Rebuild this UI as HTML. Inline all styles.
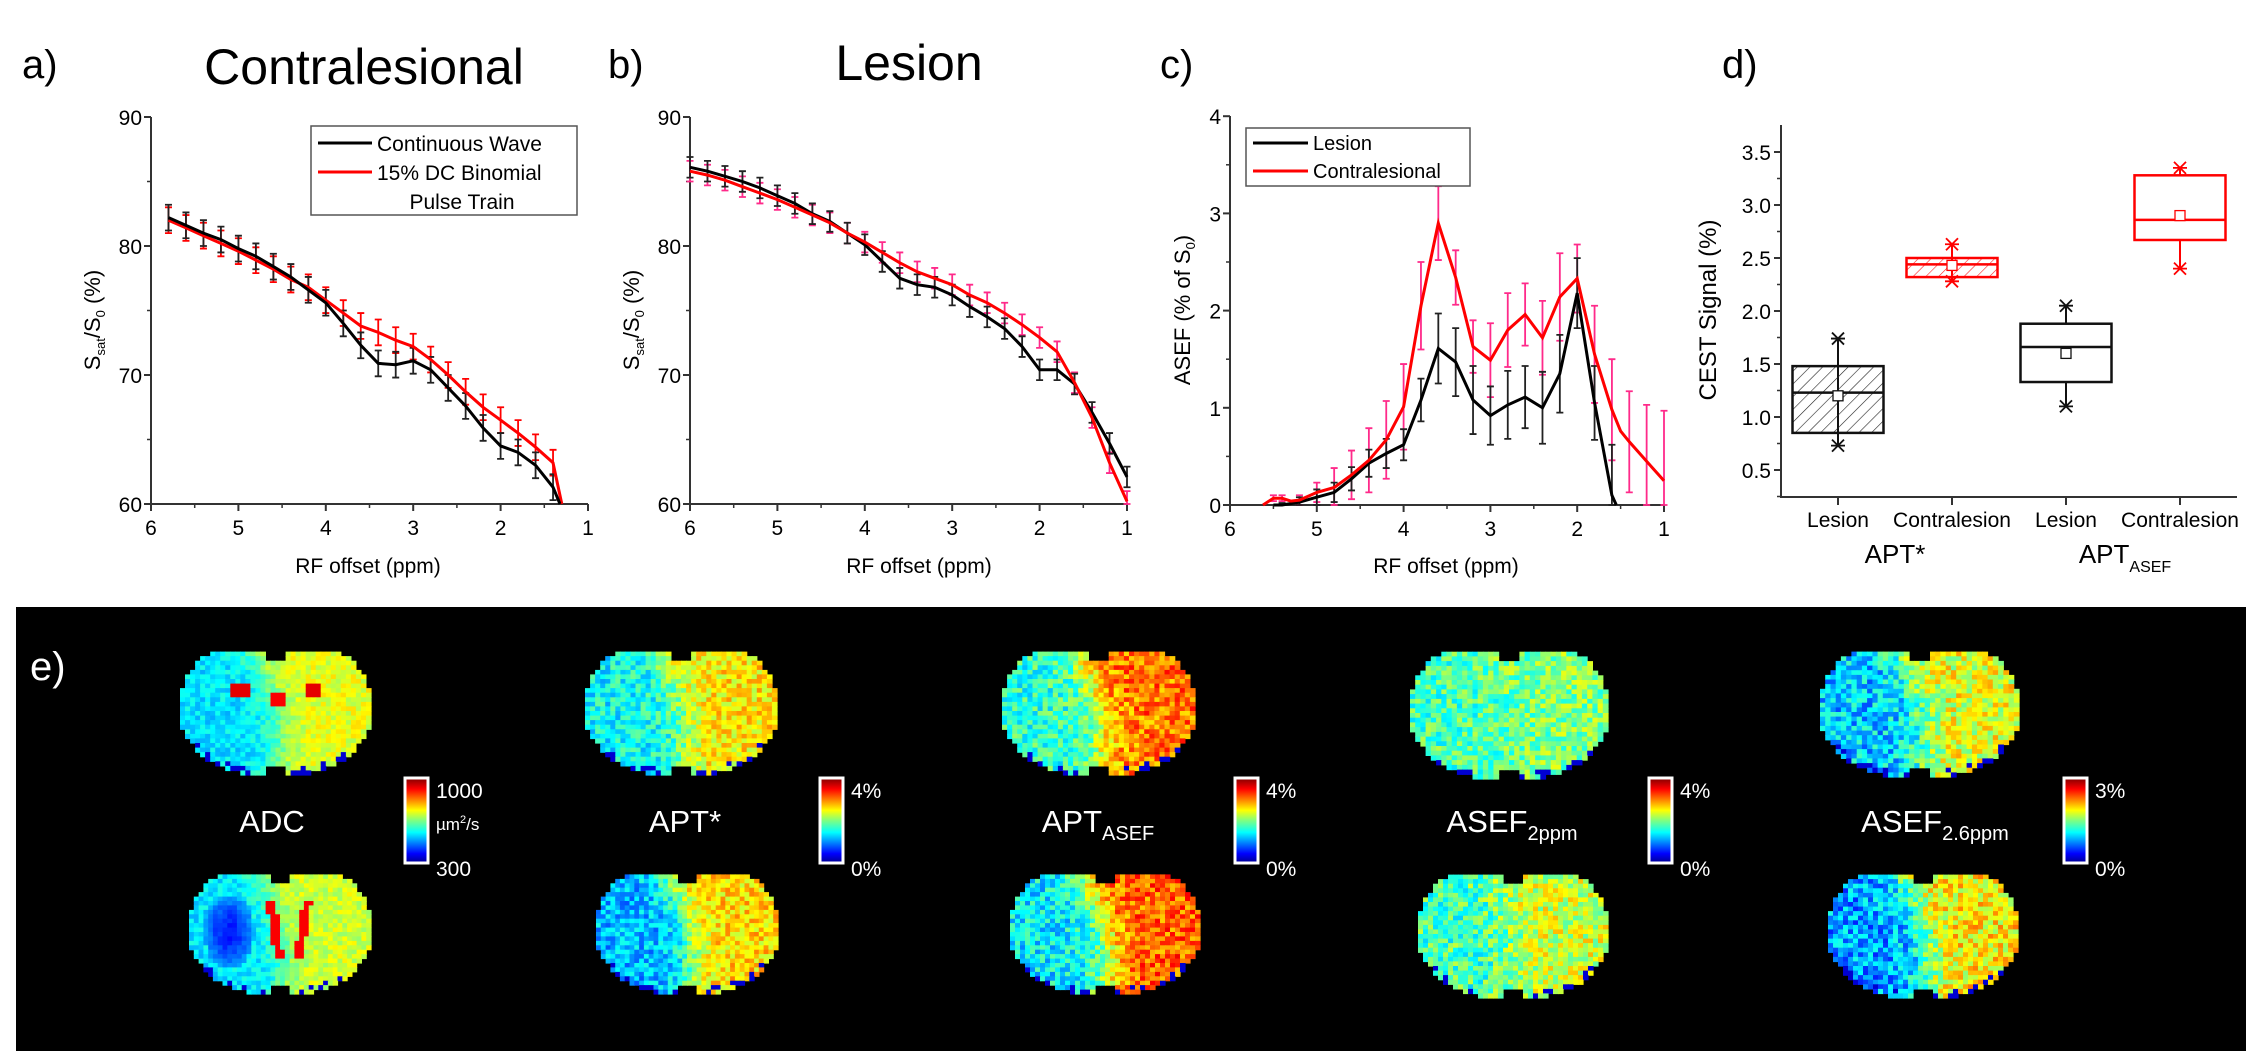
<!DOCTYPE html>
<html><head><meta charset="utf-8"><title>CEST figure</title>
<style>
html,body{margin:0;padding:0;background:#fff;}
svg{display:block;font-family:"Liberation Sans",sans-serif;}
</style></head>
<body>
<svg id="fig" width="2262" height="1051" viewBox="0 0 2262 1051" xmlns="http://www.w3.org/2000/svg">
<defs>
<pattern id="hatchK" patternUnits="userSpaceOnUse" width="9" height="9" patternTransform="rotate(45)"><line x1="0" y1="0" x2="0" y2="9" stroke="#222" stroke-width="1.2"/></pattern>
<pattern id="hatchR" patternUnits="userSpaceOnUse" width="9" height="9" patternTransform="rotate(45)"><line x1="0" y1="0" x2="0" y2="9" stroke="#f22" stroke-width="1.2"/></pattern>
<linearGradient id="jet" x1="0" y1="1" x2="0" y2="0">
<stop offset="0" stop-color="#00008f"/><stop offset="0.11" stop-color="#0000ff"/><stop offset="0.36" stop-color="#00ffff"/><stop offset="0.5" stop-color="#80ff80"/><stop offset="0.62" stop-color="#ffff00"/><stop offset="0.87" stop-color="#ff0000"/><stop offset="1" stop-color="#800000"/>
</linearGradient>
</defs>
<g id="topPanels"></g>
<rect x="16" y="607" width="2230" height="444" fill="#000"/>
<g id="maps"></g>
</svg>
<script>
// ---------- Panel a data ----------
const aBlackX = [5.8,5.6,5.4,5.2,5.0,4.8,4.6,4.4,4.2,4.0,3.8,3.6,3.4,3.2,3.0,2.8,2.6,2.4,2.2,2.0,1.8,1.6,1.4,1.32];
const aBlackY = [82.2,81.6,81.0,80.5,79.8,79.2,78.4,77.6,76.6,75.6,74.0,72.3,70.9,70.8,71.1,70.4,69.0,67.6,65.9,64.5,64.0,63.0,61.3,60.0];
const aRedX = [5.8,5.6,5.4,5.2,5.0,4.8,4.6,4.4,4.2,4.0,3.8,3.6,3.4,3.2,3.0,2.8,2.6,2.4,2.2,2.0,1.8,1.6,1.4,1.3];
const aRedY = [82.0,81.4,80.8,80.2,79.6,78.9,78.2,77.4,76.8,75.8,74.8,73.8,73.3,72.7,72.2,71.2,70.0,68.7,67.5,66.5,65.5,64.4,63.2,60.0];
const aErr = 1.0;
// ---------- Panel b data ----------
const bX = [6.0,5.8,5.6,5.4,5.2,5.0,4.8,4.6,4.4,4.2,4.0,3.8,3.6,3.4,3.2,3.0,2.8,2.6,2.4,2.2,2.0,1.8,1.6,1.4,1.2,1.0];
const bBlackY = [86.1,85.8,85.4,85.0,84.5,83.9,83.3,82.5,81.9,81.0,80.1,78.8,77.5,77.0,76.8,76.2,75.3,74.5,73.6,72.2,70.4,70.4,69.3,67.1,64.7,62.1];
const bRedY = [85.8,85.5,85.1,84.6,84.1,83.6,83.0,82.4,81.8,81.0,80.3,79.5,78.7,78.0,77.5,77.0,76.2,75.6,74.8,73.9,72.9,71.8,69.4,66.7,63.2,60.2];
const bErr = 0.8;
// ---------- Panel c data ----------
const cBlackX = [5.5,5.4,5.2,5.0,4.8,4.6,4.4,4.2,4.0,3.8,3.6,3.4,3.2,3.0,2.8,2.6,2.4,2.2,2.0,1.8,1.6,1.55];
const cBlackY = [0,0.0,0.03,0.08,0.13,0.27,0.43,0.53,0.62,1.08,1.61,1.47,1.08,0.92,1.03,1.11,1.0,1.35,2.18,1.05,0.1,0];
const cBlackE = [0,0.02,0.05,0.08,0.1,0.12,0.14,0.15,0.16,0.22,0.36,0.35,0.35,0.3,0.35,0.32,0.37,0.4,0.36,0.38,0.52,0];
const cRedX = [5.62,5.5,5.4,5.3,5.2,5.0,4.8,4.6,4.4,4.2,4.0,3.8,3.6,3.4,3.2,3.0,2.8,2.6,2.4,2.2,2.0,1.8,1.6,1.5,1.4,1.2,1.0];
const cRedY = [0,0.07,0.07,0.04,0.05,0.13,0.18,0.31,0.46,0.67,1.01,2.05,2.90,2.34,1.63,1.49,1.80,1.96,1.72,2.14,2.33,1.55,0.98,0.76,0.65,0.45,0.25];
const cRedE = [0,0.03,0.03,0,0.05,0.1,0.2,0.25,0.33,0.4,0.44,0.45,0.38,0.28,0.27,0.38,0.38,0.32,0.38,0.45,0.35,0.5,0.52,0,0.52,0.58,0.72];
// ---------- Panel d data ----------
const dCats = ["Lesion","Contralesion","Lesion","Contralesion"];
const dQ1 = [0.85,2.32,1.33,2.67];
const dQ3 = [1.48,2.50,1.88,3.28];
const dMed = [1.23,2.44,1.66,2.86];
const dMean = [1.20,2.43,1.60,2.90];
const dMin = [0.73,2.28,1.10,2.40];
const dMax = [1.74,2.63,2.05,3.35];
const dTicks = [0.5,1.0,1.5,2.0,2.5,3.0,3.5];

const NS = "http://www.w3.org/2000/svg";
const topG = document.getElementById('topPanels');
function el(tag, attrs, parent, text){
  const e = document.createElementNS(NS, tag);
  for (const k in attrs) e.setAttribute(k, attrs[k]);
  if (text !== undefined) e.textContent = text;
  (parent||topG).appendChild(e);
  return e;
}

function linePath(xs, ys, X, Y){
  return xs.map((x,i)=>(i?'L':'M')+X(x).toFixed(1)+' '+Y(ys[i]).toFixed(1)).join(' ');
}
function errBars(g, xs, ys, es, X, Y, color, name, floor){
  xs.forEach((x,i)=>{
    const e = Array.isArray(es)?es[i]:es;
    if (!e) return;
    let lo = ys[i]-e;
    if (floor !== undefined && lo < floor) lo = floor;
    const px=X(x), y1=Y(lo), y2=Y(ys[i]+e);
    const b = el('path',{d:`M${px} ${y1}V${y2}M${px-3.5} ${y1}H${px+3.5}M${px-3.5} ${y2}H${px+3.5}`,stroke:color,'stroke-width':1.8,fill:'none'},g);
    
    
  });
}

function axes(g, x0, x1, yTop, yBot, X, Y, xt, xminor, yt, yminor, name){
  const ax = el('path',{d:`M${x0} ${yTop}V${yBot}H${x1}`,stroke:'#333','stroke-width':2,fill:'none'},g);
  
  
  xt.forEach(v=>{
    el('line',{x1:X(v),x2:X(v),y1:yBot,y2:yBot+7,stroke:'#333','stroke-width':2},g);
    const t = el('text',{x:X(v),y:yBot+31,'text-anchor':'middle','font-size':21},g,String(v));
    
    
  });
  xminor.forEach(v=>el('line',{x1:X(v),x2:X(v),y1:yBot,y2:yBot+4,stroke:'#333','stroke-width':1.5},g));
  yt.forEach(v=>{
    el('line',{x1:x0-7,x2:x0,y1:Y(v),y2:Y(v),stroke:'#333','stroke-width':2},g);
    const t = el('text',{x:x0-9,y:Y(v)+8,'text-anchor':'end','font-size':21},g,String(v));
    
    
  });
  yminor.forEach(v=>el('line',{x1:x0-4,x2:x0,y1:Y(v),y2:Y(v),stroke:'#333','stroke-width':1.5},g));
}

const xT=[6,5,4,3,2,1], xM=[5.5,4.5,3.5,2.5,1.5];

// ---------- Panel a ----------
(function(){
  const g = el('g',{});  
  const X=v=>151+(6-v)*87.4, Y=v=>504-(v-60)*12.9;
  el('text',{x:22,y:78,'font-size':40},g,'a)');
  const t=el('text',{x:364,y:84,'text-anchor':'middle','font-size':50},g,'Contralesional');  
  axes(g,151,588,117,504,X,Y,xT,xM,[90,80,70,60],[85,75,65],'panel-a');
  const xl=el('text',{x:368,y:573,'text-anchor':'middle','font-size':21},g,'RF offset (ppm)');  
  const yl=el('text',{transform:'translate(100,320) rotate(-90)','text-anchor':'middle','font-size':22},g);
   
  yl.innerHTML='S<tspan font-size="13" dy="5">sat</tspan><tspan dy="-5">/S</tspan><tspan font-size="13" dy="5">0</tspan><tspan dy="-5"> (%)</tspan>';
  errBars(g,aRedX.slice(0,-1),aRedY,aErr,X,Y,'#f00','panel-a-red');
  errBars(g,aBlackX.slice(0,-1),aBlackY,aErr,X,Y,'#222','panel-a-black');
  const r=el('path',{d:linePath(aRedX,aRedY,X,Y),stroke:'#f00','stroke-width':3,fill:'none'},g);  
  const k=el('path',{d:linePath(aBlackX,aBlackY,X,Y),stroke:'#000','stroke-width':3,fill:'none'},g);  
  const lg=el('g',{},g);  
  el('rect',{x:311,y:126,width:266,height:89,fill:'#fff',stroke:'#555','stroke-width':1.5},lg);
  el('line',{x1:318,x2:372,y1:143,y2:143,stroke:'#000','stroke-width':3},lg);
  el('line',{x1:318,x2:372,y1:172,y2:172,stroke:'#f00','stroke-width':3},lg);
  el('text',{x:377,y:151,'font-size':21},lg,'Continuous Wave');
  el('text',{x:377,y:180,'font-size':21},lg,'15% DC Binomial');
  el('text',{x:462,y:209,'font-size':21,'text-anchor':'middle'},lg,'Pulse Train');
})();

// ---------- Panel b ----------
(function(){
  const g = el('g',{});  
  const X=v=>690+(6-v)*87.4, Y=v=>504-(v-60)*12.9;
  el('text',{x:608,y:78,'font-size':40},g,'b)');
  const t=el('text',{x:909,y:80,'text-anchor':'middle','font-size':50},g,'Lesion');  
  axes(g,690,1127,117,504,X,Y,xT,xM,[90,80,70,60],[85,75,65],'panel-b');
  const xl=el('text',{x:919,y:573,'text-anchor':'middle','font-size':21},g,'RF offset (ppm)');  
  const yl=el('text',{transform:'translate(639,320) rotate(-90)','text-anchor':'middle','font-size':22},g);
   
  yl.innerHTML='S<tspan font-size="13" dy="5">sat</tspan><tspan dy="-5">/S</tspan><tspan font-size="13" dy="5">0</tspan><tspan dy="-5"> (%)</tspan>';
  errBars(g,bX,bRedY,bErr,X,Y,'#ff2a8a','panel-b-red',60);
  errBars(g,bX,bBlackY,bErr,X,Y,'#222','panel-b-black',60);
  const k=el('path',{d:linePath(bX,bBlackY,X,Y),stroke:'#000','stroke-width':3,fill:'none'},g);  
  const r=el('path',{d:linePath(bX,bRedY,X,Y),stroke:'#f00','stroke-width':3,fill:'none'},g);  
})();

// ---------- Panel c ----------
(function(){
  const g = el('g',{});  
  const X=v=>1230+(6-v)*86.8, Y=v=>505-v*97.2;
  el('text',{x:1160,y:78,'font-size':40},g,'c)');
  axes(g,1230,1664,116,505,X,Y,xT,xM,[4,3,2,1,0],[3.5,2.5,1.5,0.5],'panel-c');
  const xl=el('text',{x:1446,y:573,'text-anchor':'middle','font-size':21},g,'RF offset (ppm)');  
  const yl=el('text',{transform:'translate(1190,310) rotate(-90)','text-anchor':'middle','font-size':22},g);
   
  yl.innerHTML='ASEF (% of S<tspan font-size="13" dy="5">0</tspan><tspan dy="-5">)</tspan>';
  errBars(g,cRedX,cRedY,cRedE,X,Y,'#ff2a8a','panel-c-red',0);
  errBars(g,cBlackX,cBlackY,cBlackE,X,Y,'#222','panel-c-black',0);
  const k=el('path',{d:linePath(cBlackX,cBlackY,X,Y),stroke:'#000','stroke-width':3,fill:'none'},g);  
  const r=el('path',{d:linePath(cRedX,cRedY,X,Y),stroke:'#f00','stroke-width':3,fill:'none'},g);  
  const lg=el('g',{},g);  
  el('rect',{x:1246,y:128,width:224,height:58,fill:'#fff',stroke:'#555','stroke-width':1.5},lg);
  el('line',{x1:1253,x2:1308,y1:143,y2:143,stroke:'#000','stroke-width':3},lg);
  el('line',{x1:1253,x2:1308,y1:171,y2:171,stroke:'#f00','stroke-width':3},lg);
  el('text',{x:1313,y:150,'font-size':20},lg,'Lesion');
  el('text',{x:1313,y:178,'font-size':20},lg,'Contralesional');
})();

// ---------- Panel d ----------
(function(){
  const g = el('g',{});  
  const Y=v=>470-(v-0.5)*106;
  const X=i=>1838+i*114;
  el('text',{x:1722,y:78,'font-size':40},g,'d)');
  const ax=el('path',{d:'M1781 125V497H2237',stroke:'#333','stroke-width':2,fill:'none'},g);
   
  dTicks.forEach(v=>{
    el('line',{x1:1774,x2:1781,y1:Y(v),y2:Y(v),stroke:'#333','stroke-width':2},g);
    const t=el('text',{x:1771,y:Y(v)+8,'text-anchor':'end','font-size':21},g,v.toFixed(1));
     
    if (v<3.5) el('line',{x1:1777,x2:1781,y1:Y(v+0.25),y2:Y(v+0.25),stroke:'#333','stroke-width':1.5},g);
  });
  el('line',{x1:1777,x2:1781,y1:Y(0.25),y2:Y(0.25),stroke:'#333','stroke-width':1.5},g);
  const yl=el('text',{transform:'translate(1716,310) rotate(-90)','text-anchor':'middle','font-size':24},g,'CEST Signal (%)');
   
  dCats.forEach((c,i)=>{
    const cx=X(i), col=(i%2)?'#f00':'#111', hw=45.5;
    el('line',{x1:cx,x2:cx,y1:497,y2:505,stroke:'#333','stroke-width':2},g);
    const t=el('text',{x:cx,y:527,'text-anchor':'middle','font-size':21},g,c);
     
    const bg=el('g',{},g);  
    el('line',{x1:cx,x2:cx,y1:Y(dMin[i]),y2:Y(dMax[i]),stroke:col,'stroke-width':2},bg);
    el('rect',{x:cx-hw,y:Y(dQ3[i]),width:2*hw,height:Y(dQ1[i])-Y(dQ3[i]),fill:i<2?(i?'url(#hatchR)':'url(#hatchK)'):'#fff',stroke:col,'stroke-width':2.5},bg);
    el('line',{x1:cx-hw,x2:cx+hw,y1:Y(dMed[i]),y2:Y(dMed[i]),stroke:col,'stroke-width':2.5},bg);
    el('rect',{x:cx-5,y:Y(dMean[i])-5,width:10,height:10,fill:'#fff',stroke:col,'stroke-width':1.3},bg);
    [dMin[i],dMax[i]].forEach(v=>{
      const y=Y(v);
      el('path',{d:`M${cx-6} ${y-6}L${cx+6} ${y+6}M${cx-6} ${y+6}L${cx+6} ${y-6}M${cx-7} ${y}H${cx+7}`,stroke:col,'stroke-width':1.8},bg);
    });
  });
  const a1=el('text',{x:1895,y:563,'text-anchor':'middle','font-size':26},g,'APT*');  
  const a2=el('text',{x:2125,y:563,'text-anchor':'middle','font-size':26},g);  
  a2.innerHTML='APT<tspan font-size="16" dy="9">ASEF</tspan>';
})();

// ---------- Panel e: parametric maps (image imitation) ----------
const mapsG = document.getElementById('maps');
let seed = 12345;
function rnd(){ seed = (seed*1103515245+12345) % 2147483648; return seed/2147483648; }
function jet(t){
  t=Math.max(0,Math.min(1,t));
  const r=Math.max(0,Math.min(1,1.5-Math.abs(4*t-3)));
  const g=Math.max(0,Math.min(1,1.5-Math.abs(4*t-2)));
  const b=Math.max(0,Math.min(1,1.5-Math.abs(4*t-1)));
  return `rgb(${Math.round(r*255)},${Math.round(g*255)},${Math.round(b*255)})`;
}
function brain(x,y,w,h,left,right,noise,extra,name){
  const g=el('g',{},mapsG);
  
  
  const nx=38, ny=28, cw=w/nx, ch=h/ny;
  let html='';
  for(let j=0;j<ny;j++){
    for(let i=0;i<nx;i++){
      const u=(i+0.5)/nx, v=(j+0.5)/ny;
      const dx=(u-0.5)/0.5, dy=(v-0.48)/0.52;
      let inside = Math.pow(Math.abs(dx),2.6)*(1+0.6*Math.max(0,v-0.6)) + Math.pow(Math.abs(dy),2.4) < 1.0 && v>0.02;
      if (v<0.1 && Math.abs(u-0.5)<0.05) inside=false;
      if (v>0.93 && (Math.abs(u-0.5)<0.04 || u<0.22 || u>0.78)) inside=false;
      if (!inside) continue;
      const bnd = 0.40+0.12*Math.sin((v-0.1)*2.5);
      const s = 1/(1+Math.exp(-(u-bnd)/0.05));
      let val = left + (right-left)*s + (rnd()-0.5)*noise;
      if (extra) val = extra(u,v,val);
      const rim = Math.pow(Math.abs(dx),2.6) + Math.pow(Math.abs(dy),2.4);
      if (rim>0.8 && v>0.75 && rnd()<0.4) val=0.08;
      html += `<rect x="${(x+i*cw).toFixed(1)}" y="${(y+j*ch).toFixed(1)}" width="${(cw+0.6).toFixed(1)}" height="${(ch+0.6).toFixed(1)}" fill="${jet(val)}"/>`;
    }
  }
  g.innerHTML=html;
}
const adcTop=(u,v,val)=>{ if((Math.abs(u-0.32)<0.05||Math.abs(u-0.7)<0.05)&&Math.abs(v-0.33)<0.05) return 0.9; if(Math.abs(u-0.52)<0.04&&Math.abs(v-0.42)<0.05) return 0.88; return val; };
const adcBot=(u,v,val)=>{ const d=((u-0.22)/0.14)**2+((v-0.5)/0.3)**2; if(d<1) return 0.15+0.15*d+(rnd()-0.5)*0.05; if(v>0.25&&v<0.7&&Math.abs(Math.abs(u-0.55)-(0.1-0.1*(v-0.25)))<0.025) return 0.88; return val; };
brain(180,647,191,128,0.35,0.6,0.12,adcTop,'adc-map-top');
brain(189,870,182,124,0.35,0.58,0.12,adcBot,'adc-map-bottom');
brain(585,647,192,128,0.38,0.64,0.2,null,'apt-star-map-top');
brain(596,870,182,124,0.3,0.66,0.2,null,'apt-star-map-bottom');
brain(1002,647,193,128,0.42,0.76,0.22,null,'apt-asef-map-top');
brain(1010,870,190,124,0.36,0.78,0.22,null,'apt-asef-map-bottom');
brain(1410,647,198,132,0.45,0.5,0.22,null,'asef-2ppm-map-top');
brain(1418,870,190,128,0.45,0.58,0.25,null,'asef-2ppm-map-bottom');
brain(1820,647,199,130,0.32,0.6,0.25,null,'asef-2.6ppm-map-top');
brain(1828,870,190,128,0.28,0.64,0.25,null,'asef-2.6ppm-map-bottom');

function wtext(x,y,size,html,name,anchor){
  const t=el('text',{x:x,y:y,'font-size':size,fill:'#fff','text-anchor':anchor||'middle'},mapsG);
  t.innerHTML=html;
  
  
  return t;
}
wtext(30,680,40,'e)','panel-e-label','start');
wtext(272,832,31,'ADC','adc-label');
wtext(685,832,31,'APT*','apt-star-label');
wtext(1098,832,31,'APT<tspan font-size="20" dy="8">ASEF</tspan>','apt-asef-label');
wtext(1512,832,31,'ASEF<tspan font-size="20" dy="8">2ppm</tspan>','asef-2ppm-label');
wtext(1935,832,31,'ASEF<tspan font-size="20" dy="8">2.6ppm</tspan>','asef-2.6ppm-label');

const cbX=[405,820,1235,1649,2064];
const cbTop=['1000','4%','4%','4%','3%'];
const cbBot=['300','0%','0%','0%','0%'];
cbX.forEach((x,i)=>{
  const r=el('rect',{x:x,y:778,width:23,height:85,fill:'url(#jet)',stroke:'#fff','stroke-width':3},mapsG);
  
  
  wtext(x+31,798,21,cbTop[i],'colorbar-max-label','start');
  wtext(x+31,876,21,cbBot[i],'colorbar-min-label','start');
});
wtext(436,830,17,'µm<tspan font-size="11" dy="-7">2</tspan><tspan dy="7">/s</tspan>','adc-unit-label','start');
</script>
</body></html>
